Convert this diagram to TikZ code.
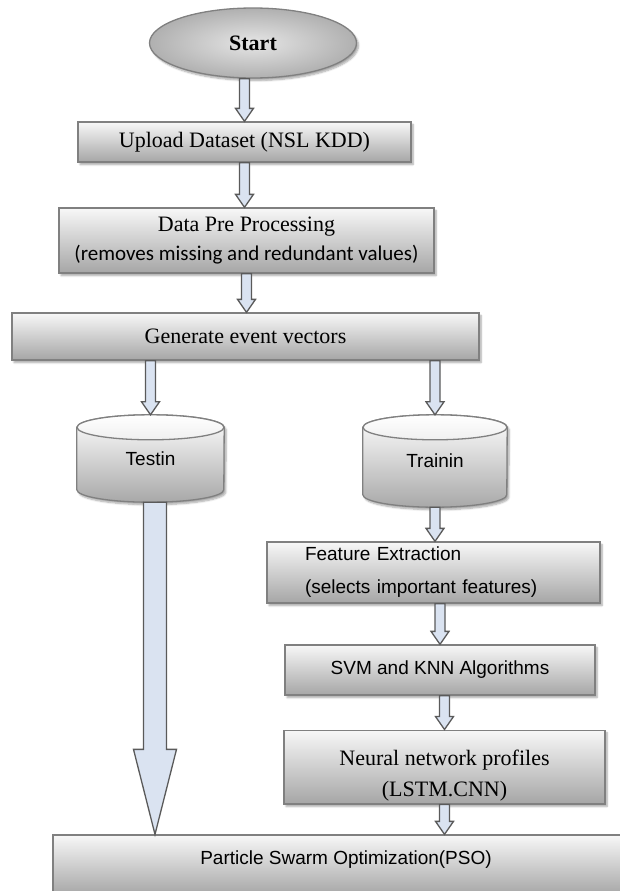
\documentclass[tikz,border=0pt]{standalone}
\usepackage{fontspec}
\setmainfont{Liberation Serif}
\newfontfamily\arialfnt{Liberation Sans}
\newfontfamily\calibfnt{Carlito}
\usetikzlibrary{shapes.geometric, shadows.blur, calc}

\definecolor{arrowfill}{RGB}{218,227,241}
\definecolor{arrowline}{RGB}{90,90,90}
\definecolor{boxline}{RGB}{128,128,128}

\tikzset{
  shadowed/.style={blur shadow={shadow xshift=2pt, shadow yshift=-2.5pt,
                   shadow blur steps=6, shadow opacity=35}},
  procbox/.style={rectangle, draw=boxline, line width=1.3pt, top color=gray!6,
                  bottom color=gray!70, shadowed, inner sep=3pt,
                  font=\fontsize{22pt}{27pt}\selectfont},
  sansbox/.style={procbox, font=\arialfnt\fontsize{19pt}{23pt}\selectfont},
  startnode/.style={ellipse, draw=boxline, line width=1.3pt, inner color=gray!20,
                    outer color=gray!62, shadowed,
                    font=\bfseries\fontsize{22pt}{27pt}\selectfont},
  drum/.style={rectangle, inner sep=0pt, font=\arialfnt\fontsize{19pt}{23pt}\selectfont},
  drumbody/.style={draw=boxline, line width=1.3pt, top color=white,
                   bottom color=gray!68, shadowed},
  drumtop/.style={draw=boxline, line width=1.3pt, top color=white, bottom color=gray!12},
  flowarrow/.style={draw=arrowline, fill=arrowfill, line width=1.3pt, line join=miter}
}

% block arrow: shaft half width, head half width, head length, from, to
\newcommand{\blockarrow}[5]{%
  \draw[flowarrow] let \p1=(#4), \p2=(#5) in
    (\x1-#1,\y1) -- (\x1-#1,\y2+#3) -- (\x1-#2,\y2+#3) -- (\x1,\y2)
    -- (\x1+#2,\y2+#3) -- (\x1+#1,\y2+#3) -- (\x1+#1,\y1) -- cycle;}

% drum outline round a named node: name, x radius, y radius
\newcommand{\drawdrum}[3]{%
  \path[drumbody] ([yshift=-#3]#1.north west) -- ([yshift=#3]#1.south west)
    arc[start angle=180, end angle=360, x radius=#2, y radius=#3]
    -- ([yshift=-#3]#1.north east)
    arc[start angle=0, end angle=180, x radius=#2, y radius=#3] -- cycle;
  \path[drumtop] ([yshift=-#3]#1.north) ellipse[x radius=#2, y radius=#3];}

\begin{document}
\begin{tikzpicture}[x=1pt, y=-1pt]
  \useasboundingbox (0,0) rectangle (620,891);

  \node[startnode, minimum width=207pt, minimum height=70pt] (start) at (253,43) {Start};
  \node[procbox, minimum width=333pt, minimum height=40pt] (upload) at (244.5,142)
       {Upload Dataset (NSL KDD)};
  \node[procbox, minimum width=375pt, minimum height=65pt, align=center] (prep) at (246.5,240.5)
       {Data Pre Processing\\[2pt]{\calibfnt\fontsize{21pt}{25pt}\selectfont
        (removes missing and redundant values)}};
  \node[procbox, minimum width=467pt, minimum height=47pt] (gen) at (245.5,336.5)
       {Generate event vectors};

  % the two data stores
  \node[drum, minimum width=147pt, minimum height=87pt] (testin) at (150.5,458.5) {};
  \node[drum, minimum width=144pt, minimum height=92pt] (trainin) at (435,461) {};
  \drawdrum{testin}{73.5pt}{12.5pt}
  \drawdrum{trainin}{72pt}{12.5pt}
  \node[drum] (testinlbl) at (testin.center) {Testin};
  \node[drum] (traininlbl) at (trainin.center) {Trainin};

  \node[sansbox, minimum width=333pt, minimum height=61pt, align=left,
        text width=257pt, inner xsep=0pt] (feat) at (433.5,572.5)
       {Feature Extraction\\[10pt](selects important features)};
  \node[sansbox, minimum width=310pt, minimum height=50pt] (svm) at (440,670)
       {SVM and KNN Algorithms};
  \node[procbox, minimum width=321pt, minimum height=60pt, align=center] (neural) at (444.5,767)
       {\rule{0pt}{32pt}Neural network profiles\\[4pt](LSTM.CNN)};
  \node[sansbox, minimum width=586pt, inner ysep=4pt, text height=25pt,
        text depth=27pt] (pso) at (346,865)
       {Particle Swarm Optimization(PSO)};

  \blockarrow{5}{9}{13}{start.south -| upload.north}{upload.north}
  \blockarrow{5}{9}{13}{upload.south}{upload.south |- prep.north}
  \blockarrow{5}{9}{13}{prep.south}{prep.south |- gen.north}
  \blockarrow{5}{9}{13}{gen.south -| testin.north}{testin.north}
  \blockarrow{5}{9}{13}{gen.south -| trainin.north}{trainin.north}
  \blockarrow{5}{9}{13}{trainin.south}{trainin.south |- feat.north}
  \blockarrow{5}{9}{13}{feat.south -| svm.north}{svm.north}
  \blockarrow{5}{9}{13}{svm.south -| neural.north}{neural.north}
  \blockarrow{5}{9}{13}{neural.south}{neural.south |- pso.north}
  \blockarrow{11.5}{21.5}{85}{[xshift=4.5pt]testin.south}{[xshift=4.5pt]testin.south |- pso.north}
\end{tikzpicture}
\end{document}
